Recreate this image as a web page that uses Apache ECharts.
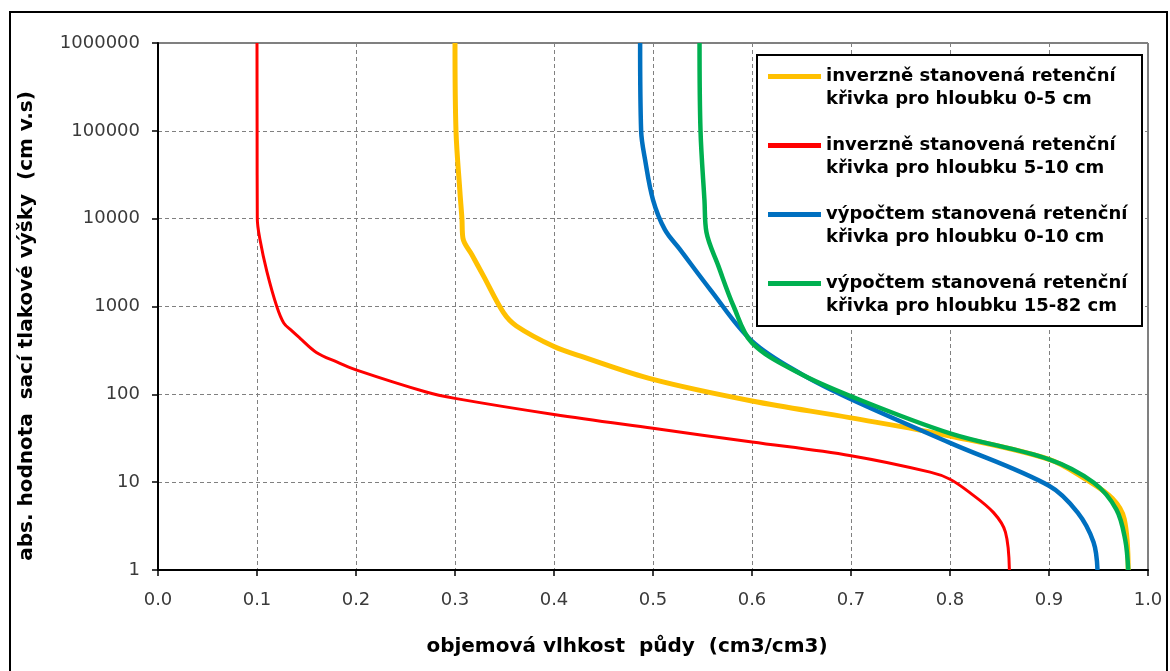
<!DOCTYPE html>
<html>
<head>
<meta charset="utf-8">
<title>Retenční křivky</title>
<script src="https://cdn.jsdelivr.net/npm/echarts@6/dist/echarts.min.js"></script>
<style>
  html, body { margin: 0; padding: 0; background: #fff; }
  #chart { width: 1170px; height: 671px; }
</style>
</head>
<body>
<div id="chart"></div>
<script>
// objemová vlhkost (x) a sací tlaková výška (y)
var yellowTheta = [0.300, 0.301, 0.305, 0.307, 0.308, 0.317, 0.329, 0.349, 0.362, 0.400, 0.430, 0.500, 0.600, 0.700, 0.800, 0.900, 0.937, 0.964, 0.976, 0.980];
var yellowHead  = [1000000, 100000, 20000, 10000, 6000, 3900, 2200, 850, 600, 350, 265, 148, 84, 54, 33.6, 18.2, 10.8, 6.5, 3.8, 1];

var redTheta = [0.100, 0.1001, 0.1003, 0.103, 0.110, 0.120, 0.127, 0.135, 0.143, 0.160, 0.180, 0.200, 0.270, 0.300, 0.400, 0.500, 0.600, 0.700, 0.780, 0.800, 0.820, 0.844, 0.856, 0.860];
var redHead  = [1000000, 100000, 10000, 5800, 2500, 1000, 650, 530, 440, 300, 235, 190, 107, 90, 59, 41, 28.7, 20, 13, 10.8, 7.6, 4.5, 2.7, 1];

var blueTheta = [0.487, 0.488, 0.492, 0.500, 0.512, 0.527, 0.558, 0.600, 0.650, 0.700, 0.800, 0.900, 0.929, 0.945, 0.949];
var blueHead  = [1000000, 100000, 47000, 16400, 7500, 4500, 1550, 404, 170, 88, 28, 9.1, 4.5, 2.07, 1];

var greenTheta = [0.547, 0.548, 0.552, 0.554, 0.566, 0.5815, 0.600, 0.647, 0.700, 0.800, 0.900, 0.945, 0.968, 0.977, 0.980];
var greenHead  = [1000000, 100000, 16000, 7000, 2900, 1000, 386, 176, 95, 36, 18.2, 9.9, 4.9, 2.2, 1];

var seriesNames = [
  'inverzně stanovená retenční\nkřivka pro hloubku 0-5 cm',
  'inverzně stanovená retenční\nkřivka pro hloubku 5-10 cm',
  'výpočtem stanovená retenční\nkřivka pro hloubku 0-10 cm',
  'výpočtem stanovená retenční\nkřivka pro hloubku 15-82 cm'
];
var seriesColors = ['#FFC000', '#FF0000', '#0070C0', '#00B050'];
var seriesWidths = [5, 3, 4.5, 4.5];

var xTitle = 'objemová vlhkost  půdy  (cm3/cm3)';
var yTitle = 'abs. hodnota  sací tlakové výšky  (cm v.s)';

function zip(xs, ys) {
  var out = [];
  for (var i = 0; i < xs.length; i++) out.push([xs[i], ys[i]]);
  return out;
}

var allData = [
  zip(yellowTheta, yellowHead),
  zip(redTheta, redHead),
  zip(blueTheta, blueHead),
  zip(greenTheta, greenHead)
];

var chart = echarts.init(document.getElementById('chart'));

var series = allData.map(function (d, i) {
  return {
    name: seriesNames[i],
    type: 'line',
    data: d,
    showSymbol: false,
    symbol: 'none',
    smooth: 0.35,
    color: seriesColors[i],
    lineStyle: { color: seriesColors[i], width: seriesWidths[i] },
    z: 2 + i
  };
});

var tickFont = { fontFamily: 'DejaVu Sans', fontSize: 18, color: '#3a3a3a' };

chart.setOption({
  backgroundColor: '#fff',
  animation: false,
  grid: {
    left: 158, top: 43, width: 990, height: 527,
    show: true, borderColor: '#000', borderWidth: 1
  },
  xAxis: {
    type: 'value',
    min: 0, max: 1, interval: 0.1,
    axisLine: { show: true, lineStyle: { color: '#000', width: 2 } },
    axisTick: { show: true, length: 6, lineStyle: { color: '#000', width: 1.5 } },
    axisLabel: Object.assign({ margin: 21, formatter: function (v) { return v.toFixed(1); } }, tickFont),
    splitLine: { show: true, lineStyle: { color: '#808080', type: [4, 3], width: 1 } }
  },
  yAxis: {
    type: 'log',
    logBase: 10,
    min: 1, max: 1000000, interval: 1,
    axisLine: { show: true, lineStyle: { color: '#000', width: 2 } },
    axisTick: { show: true, length: 6, lineStyle: { color: '#000', width: 1.5 } },
    axisLabel: Object.assign({ margin: 18, formatter: function (v) { return String(Math.round(v)); } }, tickFont),
    splitLine: { show: true, lineStyle: { color: '#808080', type: [4, 3], width: 1 } },
    minorTick: { show: false },
    minorSplitLine: { show: false }
  },
  legend: {
    orient: 'vertical',
    left: 768, top: 42,
    padding: 0,
    itemGap: 0,
    itemWidth: 53,
    itemHeight: 5,
    icon: 'rect',
    data: seriesNames,
    z: 6,
    // prázdný první řádek, aby čára stála u prvního řádku textu
    formatter: function (name) { return ' \n' + name; },
    textStyle: {
      fontFamily: 'DejaVu Sans', fontWeight: 'bold', fontSize: 18,
      color: '#000', lineHeight: 23
    }
  },
  graphic: [
    {
      type: 'rect', z: 5,
      shape: { x: 757, y: 55, width: 385, height: 271 },
      style: { fill: '#fff', stroke: '#000', lineWidth: 2 }
    },
    {
      type: 'rect', z: 10, silent: true,
      shape: { x: 10, y: 12, width: 1157, height: 720 },
      style: { fill: 'none', stroke: '#000', lineWidth: 2 }
    },
    {
      type: 'text', z: 10,
      x: 627, y: 647,
      style: {
        text: xTitle, fill: '#000',
        font: 'bold 20px "DejaVu Sans"',
        align: 'center', verticalAlign: 'middle'
      }
    },
    {
      type: 'text', z: 10,
      x: 27, y: 326, rotation: Math.PI / 2,
      style: {
        text: yTitle, fill: '#000',
        font: 'bold 20px "DejaVu Sans"',
        align: 'center', verticalAlign: 'middle'
      }
    }
  ],
  series: series
});
</script>
</body>
</html>
